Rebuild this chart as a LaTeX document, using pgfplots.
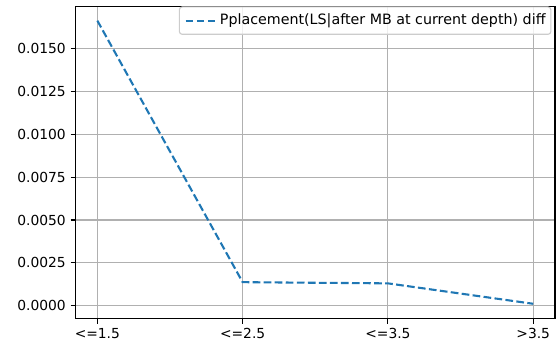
\documentclass[border=0pt]{standalone}
\usepackage{fontspec}
\setmainfont{DejaVu Sans}
\usepackage{pgfplots}
\pgfplotsset{compat=1.18}

\definecolor{mplblue}{RGB}{31,119,180}
\definecolor{gridgray}{RGB}{176,176,176}
\definecolor{legframe}{RGB}{204,204,204}

\begin{document}
\begin{tikzpicture}
\useasboundingbox (-54.4bp,-21.6bp) rectangle (348.8bp,229.6bp);
\begin{axis}[
  at={(0,0)}, anchor=south west,
  scale only axis,
  width=345.2bp, height=225.0bp,
  xmin=-0.15, xmax=3.15,
  ymin=-0.00076, ymax=0.01745,
  xtick={0,1,2,3},
  xticklabels={{<=1.5},{<=2.5},{<=3.5},{>3.5}},
  ytick={0,0.0025,0.005,0.0075,0.01,0.0125,0.015},
  scaled y ticks=false,
  /pgf/number format/assume math mode=true,
  yticklabel style={/pgf/number format/.cd, fixed, fixed zerofill, precision=4},
  tick align=outside,
  major tick length=3.5bp,
  tick style={black, line width=0.8bp},
  axis line style={black, line width=0.8bp},
  grid=major,
  major grid style={gridgray, line width=0.8bp},
  ticklabel style={font=\fontsize{10}{12}\selectfont},
  xtick pos=bottom, ytick pos=left,
  legend style={
    at={(rel axis cs:0.9925,1.0)}, anchor=north east,
    draw=legframe, line width=0.8bp, rounded corners=2bp,
    fill=white, fill opacity=0.8, text opacity=1,
    font=\fontsize{10.3}{12}\selectfont,
    inner xsep=3.8bp, inner ysep=5bp,
    nodes={inner sep=0pt, text height=7.5bp, text depth=2.2bp},
    /tikz/every odd column/.append style={column sep=3bp},
    /tikz/every even column/.append style={column sep=0bp},
  },
  legend cell align=left,
  legend image code/.code={\draw[#1] (0bp,0bp) -- (20.9bp,0bp);},
]
\addplot[mplblue, line width=1.5bp, dash pattern=on 5.55bp off 2.4bp, line cap=butt]
  coordinates {(0,0.01662) (1,0.00138) (2,0.00131) (3,0.00012)};
\addlegendentry{Pplacement(LS|after MB at current depth) diff}
\end{axis}
\end{tikzpicture}
\end{document}
